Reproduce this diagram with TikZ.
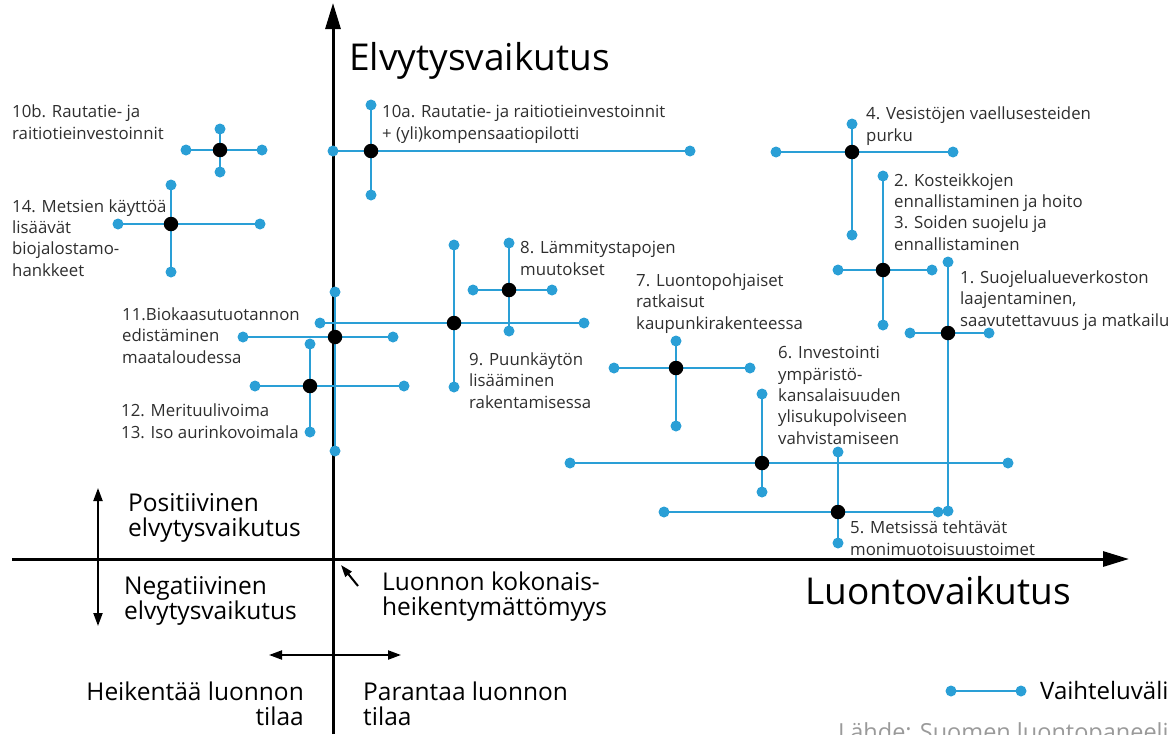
\documentclass[tikz,border=0pt]{standalone}
\usepackage{fontspec}
\setmainfont{Open Sans}
\usetikzlibrary{arrows.meta}
\definecolor{rng}{HTML}{2A9FD6}
\definecolor{txt}{HTML}{2E2E2E}
\definecolor{src}{HTML}{9A9A9A}
\begin{document}
\begin{tikzpicture}[x=1pt,y=-1pt,
  rline/.style={draw=rng, line width=2.3pt},
  edot/.style={circle, fill=rng, inner sep=0pt, minimum size=11pt},
  cdot/.style={circle, fill=black, inner sep=0pt, minimum size=14.5pt},
  lbl/.style={anchor=base west, align=left, inner sep=0pt, text=txt, font=\fontsize{16.8}{21.3}\selectfont},
  big/.style={anchor=base west, align=left, inner sep=0pt, text=black, font=\fontsize{24.5}{24.5}\selectfont},
  ttl/.style={anchor=base west, inner sep=0pt, text=black, font=\fontsize{37}{40}\selectfont},
  axis/.style={draw=black, line width=3pt, -{Triangle[length=26pt,width=15pt]}},
  dbl/.style={draw=black, line width=2pt, {Triangle[length=13pt,width=9pt]}-{Triangle[length=13pt,width=9pt]}},
  ]
\useasboundingbox (0,0) rectangle (1174,734);

% axes
\coordinate (ybot) at (333,734);
\coordinate (ytop) at (333,3);
\coordinate (xl) at (12,559);
\coordinate (xr) at (1129,559);
\draw[axis] (ybot) -- (ytop);
\draw[axis] (xl) -- (xr);

% ranges
\foreach \n/\cx/\cy/\xa/\xb/\ya/\yb in {
  tenb/220/150/186/262/129/172,
  fourteen/171/224/118/260/185/272,
  tena/371/151/333/690/105/195,
  four/852/152/776/953/124/235,
  twothree/883/270/838/932/176/325,
  one/948/333/910/989/262/511,
  eight/509/290/473/552/243/331,
  nine/454/323/320/584/245/387,
  eleven/335/337/243/393/292/451,
  twelve/310/386/255/404/344/432,
  seven/676/368/614/750/341/426,
  six/762/463/570/1008/394/492,
  five/838/512/664/938/452/543}
{
  \coordinate (\n-c) at (\cx,\cy);
  \coordinate (\n-l) at (\xa,\cy);
  \coordinate (\n-r) at (\xb,\cy);
  \coordinate (\n-t) at (\cx,\ya);
  \coordinate (\n-b) at (\cx,\yb);
  \draw[rline] (\n-l) -- (\n-r);
  \draw[rline] (\n-t) -- (\n-b);
}
\foreach \n in {tenb,fourteen,tena,four,twothree,one,eight,nine,eleven,twelve,seven,six,five}{
  \node[edot] (\n-L) at (\n-l) {};
  \node[edot] (\n-R) at (\n-r) {};
  \node[edot] (\n-T) at (\n-t) {};
  \node[edot] (\n-B) at (\n-b) {};
  \node[cdot] (\n-C) at (\n-c) {};
}

% item labels (anchor = baseline of last line)
\node[lbl] (l10b) at (12,139) {10b. Rautatie- ja\\raitiotieinvestoinnit};
\node[lbl] (l14) at (12,276) {14. Metsien käyttöä\\lisäävät\\biojalostamo-\\hankkeet};
\node[lbl] (l10a) at (382,139) {10a. Rautatie- ja raitiotieinvestoinnit\\+ (yli)kompensaatiopilotti};
\node[lbl] (l4) at (866,141) {4. Vesistöjen vaellusesteiden\\purku};
\node[lbl] (l23) at (894,250) {2. Kosteikkojen\\ennallistaminen ja hoito\\3. Soiden suojelu ja\\ennallistaminen};
\node[lbl] (l1) at (960,326) {1. Suojelualueverkoston\\laajentaminen,\\saavutettavuus ja matkailu};
\node[lbl] (l8) at (520,275) {8. Lämmitystapojen\\muutokset};
\node[lbl] (l9) at (469,408) {9. Puunkäytön\\lisääminen\\rakentamisessa};
\node[lbl] (l11) at (122,363) {11.Biokaasutuotannon\\edistäminen\\maataloudessa};
\node[lbl] (l12) at (121,438) {12. Merituulivoima\\13. Iso aurinkovoimala};
\node[lbl] (l7) at (636,329) {7. Luontopohjaiset\\ratkaisut\\kaupunkirakenteessa};
\node[lbl] (l6) at (778,444) {6. Investointi\\ympäristö-\\kansalaisuuden\\ylisukupolviseen\\vahvistamiseen};
\node[lbl] (l5) at (850,555) {5. Metsissä tehtävät\\monimuotoisuustoimet};

% titles
\node[ttl] (tY) at (349,70) {Elvytysvaikutus};
\node[ttl] (tX) at (805,604) {Luontovaikutus};

% explanations
\coordinate (va) at (98,488);
\coordinate (vb) at (98,626);
\draw[dbl] (va) -- (vb);
\node[big] (pos) at (128,536) {Positiivinen\\elvytysvaikutus};
\node[big] (neg) at (124,619) {Negatiivinen\\elvytysvaikutus};
\coordinate (oa) at (358,586);
\coordinate (ob) at (341,565);
\draw[draw=black, line width=2pt, -{Triangle[length=12pt,width=8pt]}] (oa) -- (ob);
\node[big] (luon) at (382,615) {Luonnon kokonais-\\heikentymättömyys};
\coordinate (ha) at (269,655);
\coordinate (hb) at (401,655);
\draw[dbl] (ha) -- (hb);
\node[big, anchor=base east, align=right] (heik) at (304,725) {Heikentää luonnon\\tilaa};
\node[big] (par) at (363,725) {Parantaa luonnon\\tilaa};

% legend
\coordinate (g1) at (951,691);
\coordinate (g2) at (1021,691);
\draw[rline] (g1) -- (g2);
\node[edot] (g1n) at (g1) {};
\node[edot] (g2n) at (g2) {};
\node[anchor=base west, inner sep=0pt, font=\fontsize{24}{24}\selectfont] (leg) at (1040,699) {Vaihteluväli};
\node[anchor=base west, inner sep=0pt, text=src, font=\fontsize{23.5}{24}\selectfont] (srcn) at (838,740) {Lähde: Suomen luontopaneeli};
\end{tikzpicture}
\end{document}
